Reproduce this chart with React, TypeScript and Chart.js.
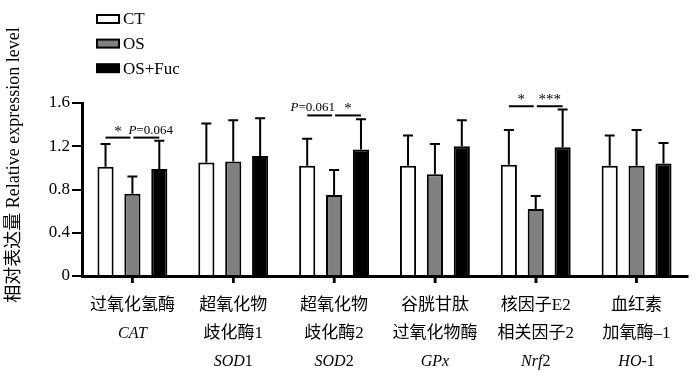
import React, { useEffect, useRef } from 'react';
import { Chart, registerables } from 'chart.js';

Chart.register(...registerables);

// ---------- data ----------
const categoryLines: string[][] = [
  ['过氧化氢酶'],
  ['超氧化物', '歧化酶1'],
  ['超氧化物', '歧化酶2'],
  ['谷胱甘肽', '过氧化物酶'],
  ['核因子E2', '相关因子2'],
  ['血红素', '加氧酶–1'],
];
const geneItalic = ['CAT', 'SOD', 'SOD', 'GPx', 'Nrf', 'HO'];
const geneSuffix = ['', '1', '2', '', '2', '-1'];

const seriesLabels = ['CT', 'OS', 'OS+Fuc'];
const seriesColors = ['#ffffff', '#808080', '#000000'];

const ctMean = [1.01, 1.05, 1.02, 1.02, 1.03, 1.02];
const ctSD = [0.21, 0.36, 0.25, 0.28, 0.32, 0.28];
const osMean = [0.76, 1.06, 0.75, 0.94, 0.62, 1.02];
const osSD = [0.16, 0.38, 0.23, 0.28, 0.12, 0.33];
const fucMean = [0.99, 1.11, 1.17, 1.2, 1.19, 1.04];
const fucSD = [0.26, 0.35, 0.28, 0.24, 0.35, 0.19];

const yTicks = [0, 0.4, 0.8, 1.2, 1.6];
const yTitle = '相对表达量 Relative expression level';

// significance brackets: category, from series, to series, level, label, text alignment
const sigCat = [0, 0, 2, 2, 4, 4];
const sigFrom = [0, 1, 0, 1, 0, 1];
const sigTo = [1, 2, 1, 2, 1, 2];
const sigLevel = [1.28, 1.28, 1.485, 1.485, 1.57, 1.57];
const sigLabel = ['*', 'P=0.064', 'P=0.061', '*', '*', '***'];
const sigAlign = ['center', 'left', 'right', 'center', 'center', 'center'];

const SERIF = '"Liberation Serif", "Noto Sans CJK SC", serif';
const X_TICK_LEN = 7;
const X_PAD = 9;
const X_LINE_H = 28;

const meansList = [ctMean, osMean, fucMean];
const sdList = [ctSD, osSD, fucSD];

const overlayPlugin = {
  id: 'overlay',
  afterDatasetsDraw(chart: any) {
    const ctx = chart.ctx;
    const ys = chart.scales.y;
    ctx.save();
    ctx.strokeStyle = '#000';
    ctx.lineWidth = 2;
    meansList.forEach((means, di) => {
      const meta = chart.getDatasetMeta(di);
      meta.data.forEach((bar: any, i: number) => {
        const x = bar.x;
        const yBar = ys.getPixelForValue(means[i]);
        const yTop = ys.getPixelForValue(means[i] + sdList[di][i]);
        ctx.beginPath();
        ctx.moveTo(x, yBar);
        ctx.lineTo(x, yTop);
        ctx.moveTo(x - 5, yTop);
        ctx.lineTo(x + 5, yTop);
        ctx.stroke();
      });
    });
    ctx.restore();
  },
  afterDraw(chart: any) {
    const ctx = chart.ctx;
    const ys = chart.scales.y;
    const xs = chart.scales.x;
    ctx.save();
    ctx.fillStyle = '#000';
    ctx.strokeStyle = '#000';

    // x tick marks at category centres
    ctx.lineWidth = 2.5;
    categoryLines.forEach((_, i) => {
      const x = xs.getPixelForValue(i);
      ctx.beginPath();
      ctx.moveTo(x, xs.top);
      ctx.lineTo(x, xs.top + X_TICK_LEN);
      ctx.stroke();
    });

    // legend
    seriesLabels.forEach((lab, i) => {
      const cy = 19 + 24.6 * i;
      ctx.fillStyle = seriesColors[i];
      ctx.fillRect(97, cy - 4, 22, 8);
      ctx.lineWidth = 2;
      ctx.strokeStyle = '#000';
      ctx.strokeRect(97, cy - 4, 22, 8);
      ctx.fillStyle = '#000';
      ctx.font = `17px ${SERIF}`;
      ctx.textAlign = 'left';
      ctx.textBaseline = 'middle';
      ctx.fillText(lab, 123, cy + 1);
    });

    // y title
    ctx.save();
    ctx.translate(14, 165);
    ctx.rotate(-Math.PI / 2);
    ctx.font = `18px ${SERIF}`;
    ctx.textAlign = 'center';
    ctx.textBaseline = 'middle';
    ctx.fillText(yTitle, 0, 0);
    ctx.restore();

    // gene names (italic + upright suffix)
    const firstLine = xs.top + X_TICK_LEN + X_PAD + X_LINE_H / 2;
    geneItalic.forEach((g, i) => {
      const x = xs.getPixelForValue(i);
      const y = firstLine + X_LINE_H * categoryLines[i].length;
      ctx.font = `italic 16px ${SERIF}`;
      const w1 = ctx.measureText(g).width;
      ctx.font = `16px ${SERIF}`;
      const w2 = ctx.measureText(geneSuffix[i]).width;
      const x0 = x - (w1 + w2) / 2;
      ctx.textAlign = 'left';
      ctx.textBaseline = 'middle';
      ctx.font = `italic 16px ${SERIF}`;
      ctx.fillText(g, x0, y);
      ctx.font = `16px ${SERIF}`;
      ctx.fillText(geneSuffix[i], x0 + w1, y);
    });

    // significance brackets
    sigCat.forEach((c, k) => {
      const xa = chart.getDatasetMeta(sigFrom[k]).data[c].x;
      const xb = chart.getDatasetMeta(sigTo[k]).data[c].x;
      const x0 = sigFrom[k] === 0 ? xa : xa + 1;
      const x1 = sigFrom[k] === 0 ? xb - 2 : xb;
      const py = ys.getPixelForValue(sigLevel[k]);
      ctx.lineWidth = 2;
      ctx.beginPath();
      ctx.moveTo(x0, py);
      ctx.lineTo(x1, py);
      ctx.stroke();
      const lab = sigLabel[k];
      ctx.textBaseline = 'alphabetic';
      ctx.textAlign = 'left';
      if (lab.startsWith('P')) {
        ctx.font = `italic 13px ${SERIF}`;
        const wp = ctx.measureText('P').width;
        ctx.font = `13px ${SERIF}`;
        const rest = lab.slice(1);
        const wr = ctx.measureText(rest).width;
        const tw = wp + wr;
        let sx = (x0 + x1) / 2 - tw / 2;
        if (sigAlign[k] === 'left') sx = x0 - 5;
        if (sigAlign[k] === 'right') sx = x1 + 3 - tw;
        ctx.font = `italic 13px ${SERIF}`;
        ctx.fillText('P', sx, py - 4);
        ctx.font = `13px ${SERIF}`;
        ctx.fillText(rest, sx + wp, py - 4);
      } else {
        ctx.font = `15px ${SERIF}`;
        const w = ctx.measureText(lab).width;
        ctx.fillText(lab, (x0 + x1) / 2 - w / 2, py - 2);
      }
    });
    ctx.restore();
  },
};

export default function App() {
  const ref = useRef<HTMLCanvasElement | null>(null);
  useEffect(() => {
    document.body.style.margin = '0';
    const canvas = ref.current;
    if (!canvas) return;
    const chart = new Chart(canvas, {
      type: 'bar',
      data: {
        labels: categoryLines as any,
        datasets: meansList.map((m, i) => ({
          label: seriesLabels[i],
          data: m,
          backgroundColor: seriesColors[i],
          borderColor: '#000',
          borderWidth: 2,
          borderSkipped: 'start',
          categoryPercentage: 0.8,
          barPercentage: 0.6,
        })),
      },
      options: {
        responsive: false,
        animation: false,
        layout: { padding: { top: 103, right: 13, bottom: 0, left: 0 } },
        plugins: { legend: { display: false }, tooltip: { enabled: false } },
        scales: {
          x: {
            grid: {
              offset: false,
              drawOnChartArea: false,
              drawTicks: true,
              tickLength: X_TICK_LEN,
              color: '#000',
              lineWidth: 2.5,
            },
            border: { display: true, color: '#000', width: 3 },
            ticks: {
              color: '#000',
              font: { family: SERIF, size: 17, lineHeight: X_LINE_H / 17 },
              padding: X_PAD,
              maxRotation: 0,
              autoSkip: false,
            },
            afterFit: (s: any) => {
              s.height = 100;
            },
          },
          y: {
            min: yTicks[0],
            max: yTicks[yTicks.length - 1],
            ticks: {
              stepSize: 0.4,
              color: '#000',
              font: { family: SERIF, size: 17 },
              padding: 2,
              callback: (v: any) => String(+Number(v).toFixed(1)),
            },
            grid: {
              drawOnChartArea: false,
              drawTicks: true,
              tickLength: 10,
              color: '#000',
              lineWidth: 2,
            },
            border: { display: true, color: '#000', width: 3 },
            afterFit: (s: any) => {
              s.width = 82;
            },
          },
        },
      } as any,
      plugins: [overlayPlugin],
    });
    return () => chart.destroy();
  }, []);
  return <canvas ref={ref} width={700} height={376} style={{ display: 'block' }} />;
}
